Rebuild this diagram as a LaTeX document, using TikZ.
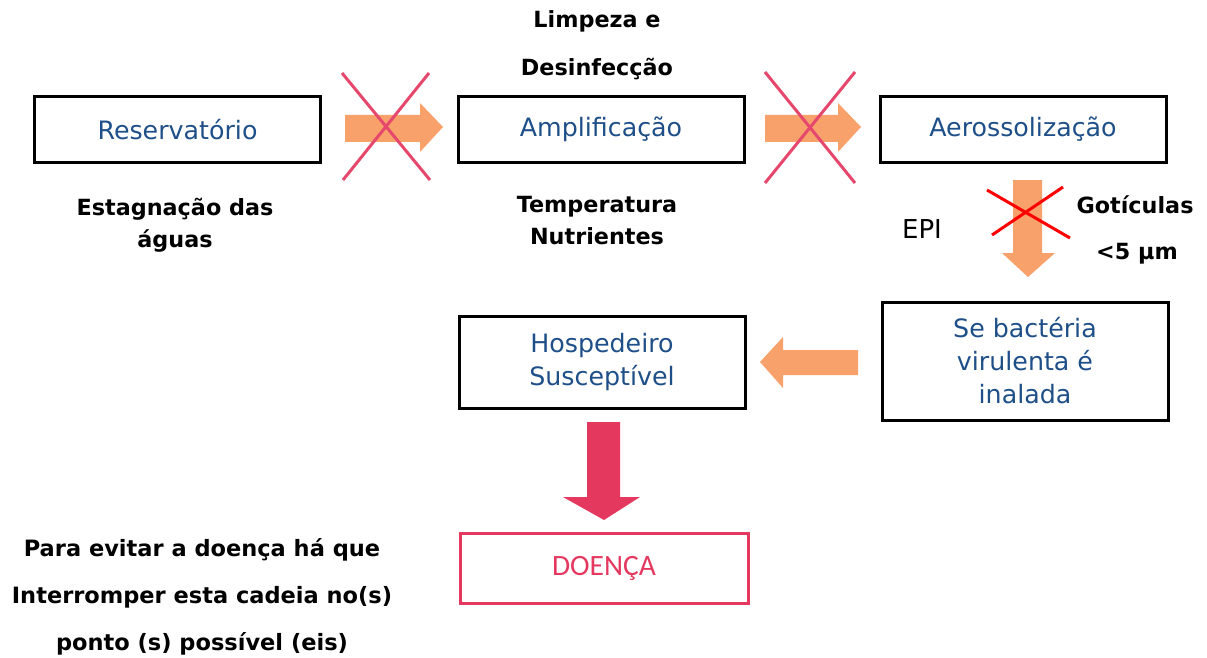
\documentclass[tikz,border=0pt]{standalone}
\usepackage{fontspec}
\setmainfont{DejaVu Sans}
\newfontfamily\calib{Carlito}
\definecolor{boxblue}{HTML}{1E4F88}
\definecolor{arrorange}{HTML}{F8A16B}
\definecolor{crosspink}{HTML}{E6476C}
\definecolor{diseasepink}{HTML}{E5385F}
\tikzset{
  stagebox/.style={draw=black, line width=3pt, minimum width=286pt, inner sep=0pt, text=boxblue, font=\fontsize{25.3}{33}\selectfont, align=center},
  lbl/.style={font=\bfseries\fontsize{22.3}{32}\selectfont, align=center, text=black},
  crossline/.style={crosspink, line width=3pt},
  redcross/.style={red, line width=3pt},
  orangearr/.style={fill=arrorange},
}
\begin{document}
\begin{tikzpicture}[x=1pt,y=-1pt]
\useasboundingbox (0,0) rectangle (1207,658);
% boxes
\node[stagebox, minimum height=65pt] (res) at (177.5,129.5) {Reservatório};
\node[stagebox, minimum height=65pt] (amp) at (601,129.5) {Amplificação};
\node[stagebox, minimum height=65pt] (aer) at (1023,129.5) {Aerossolização};
\node[stagebox, minimum height=92pt] (hos) at (602,362) {Hospedeiro\\Susceptível};
\node[stagebox, minimum height=118pt] (bac) at (1025,361) {Se bactéria\\virulenta é\\inalada};
\node[draw=diseasepink, line width=3pt, minimum width=288pt, minimum height=70pt, text=diseasepink, font=\calib\fontsize{29.5}{30}\selectfont] (doe) at (604,568) {DOENÇA};
% labels
\node[lbl] (limp) at (597,21) {Limpeza e};
\node[lbl] (desi) at (597,69) {Desinfecção};
\node[lbl] (esta) at (175,225) {Estagnação das\\águas};
\node[lbl] (temp) at (597,221) {Temperatura\\Nutrientes};
\node[font=\fontsize{26}{26}\selectfont] (epi) at (922,229) {EPI};
\node[lbl] (got) at (1135,205) {Gotículas};
\node[lbl] (mic) at (1137,254) {<5 µm};
\node[lbl, font=\bfseries\fontsize{22.5}{47}\selectfont] (para) at (202,597) {Para evitar a doença há que\\Interromper esta cadeia no(s)\\ponto (s) possível (eis)};
% orange arrows
\fill[orangearr] (345,115) -- (420,115) -- (420,103) -- (443,127) -- (420,152) -- (420,142) -- (345,142) -- cycle;
\fill[orangearr] (765,115) -- (838,115) -- (838,103) -- (861,127) -- (838,152) -- (838,142) -- (765,142) -- cycle;
\fill[orangearr] (1013,180) -- (1042,180) -- (1042,253) -- (1055,253) -- (1028,277) -- (1002,253) -- (1013,253) -- cycle;
\fill[orangearr] (858,350) -- (783,350) -- (783,337) -- (760,362) -- (783,388) -- (783,375) -- (858,375) -- cycle;
\fill[diseasepink] (587,422) -- (620,422) -- (620,497) -- (640,497) -- (604,520) -- (563,497) -- (587,497) -- cycle;
% crosses
\draw[crossline] (342,73) -- (430,180);
\draw[crossline] (429,73) -- (343,180);
\draw[crossline] (765,72) -- (855,183);
\draw[crossline] (855,72) -- (765,183);
\draw[redcross] (987,190) -- (1070,238);
\draw[redcross] (1063,187) -- (992,235);
\end{tikzpicture}
\end{document}
